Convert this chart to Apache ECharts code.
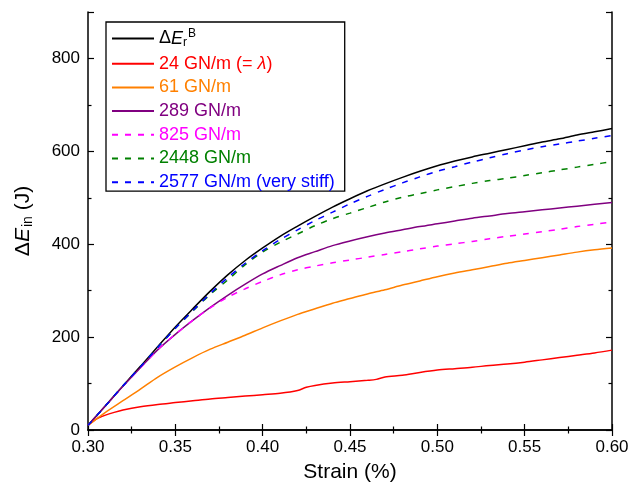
<!DOCTYPE html>
<html>
<head>
<meta charset="utf-8">
<script src="https://cdn.jsdelivr.net/npm/echarts@6/dist/echarts.min.js"></script>
<style>
  html, body { margin: 0; padding: 0; background: #fff; }
  #chart { width: 630px; height: 486px; }
</style>
</head>
<body>
<div id="chart"></div>
<script>
// Strain grid (%) shared by the smooth curves
var strain = [0.30, 0.31, 0.32, 0.33, 0.34, 0.35, 0.36, 0.37, 0.38, 0.39, 0.40,
  0.41, 0.42, 0.43, 0.44, 0.45, 0.46, 0.47, 0.48, 0.49, 0.50,
  0.51, 0.52, 0.53, 0.54, 0.55, 0.56, 0.57, 0.58, 0.59, 0.60];

// Dissipated energy (J) for each case
var energyRB = [10, 52, 95, 137, 180, 222, 261, 299, 334, 365, 392,
  417, 439, 460, 480, 498, 515, 530, 544, 557, 569,
  579, 588, 596, 604, 612, 620, 627, 635, 642, 649];
var k2577 = [10, 52, 95, 136, 178, 219, 257, 294, 328, 359, 386,
  410, 431, 451, 469, 487, 503, 518, 532, 545, 557,
  567, 577, 586, 595, 603, 610, 616, 622, 628, 634];
var k2448 = [10, 52, 95, 136, 178, 219, 256, 292, 323, 356, 383,
  404, 422, 440, 455, 467, 479, 491, 501, 509, 517,
  524, 531, 537, 542, 548, 554, 560, 566, 572, 578];
var k289 = [10, 52, 94, 134, 173, 206, 236, 264, 290, 314, 336,
  354, 371, 384, 397, 407, 416, 424, 431, 438, 444,
  450, 456, 461, 466, 470, 474, 478, 482, 486, 490];
var k825 = [10, 52, 94, 134, 173, 206, 236, 263, 286, 304, 320,
  334, 345, 353, 360, 366, 372, 378, 384, 390, 396,
  401, 406, 412, 417, 422, 427, 432, 438, 443, 448];
var k61 = [10, 38, 63, 88, 114, 136, 156, 174, 189, 204, 220,
  235, 249, 261, 273, 283, 293, 302, 312, 321, 330,
  338, 345, 352, 359, 365, 371, 377, 383, 388, 392];

// The 24 GN/m curve has a sharp knee near the start, so it is sampled more finely
var strain24 = [0.30, 0.305, 0.31, 0.315, 0.32, 0.33, 0.34, 0.35, 0.36, 0.37, 0.38,
  0.39, 0.40, 0.41, 0.42, 0.425, 0.43, 0.44, 0.45, 0.46, 0.465, 0.47,
  0.48, 0.49, 0.50, 0.51, 0.52, 0.53, 0.54, 0.55, 0.56, 0.57, 0.58, 0.59, 0.60];
var k24 = [10, 24, 32, 38, 43, 50, 55, 59, 63, 67, 70,
  73, 76, 79, 85, 92, 96, 101, 104, 107, 109, 114,
  118, 124, 129, 132, 135, 139, 142, 146, 151, 156, 161, 166, 172];

var xTicks = { min: 0.30, max: 0.60, step: 0.05 };
var yTicks = { min: 0, max: 900, step: 200 };

function pairs(xs, ys) {
  return xs.map(function (x, i) { return [x, ys[i]]; });
}

var FONT = 'Liberation Sans, Arial, sans-serif';

var seriesDefs = [
  { name: 'dEr', data: pairs(strain, energyRB), color: '#000000', dash: 'solid' },
  { name: '24', data: pairs(strain24, k24), color: '#ff0000', dash: 'solid' },
  { name: '61', data: pairs(strain, k61), color: '#ff8000', dash: 'solid' },
  { name: '289', data: pairs(strain, k289), color: '#800080', dash: 'solid' },
  { name: '825', data: pairs(strain, k825), color: '#ff00ff', dash: [6, 7] },
  { name: '2448', data: pairs(strain, k2448), color: '#008000', dash: [6, 7] },
  { name: '2577', data: pairs(strain, k2577), color: '#0000ff', dash: [6, 7] }
];

var legendText = {
  'dEr': '{t|Δ}{i|E}{sub|r}{sup|B}',
  '24': '{t|24 GN/m (= }{li|λ}{t|)}',
  '61': '61 GN/m',
  '289': '289 GN/m',
  '825': '825 GN/m',
  '2448': '2448 GN/m',
  '2577': '2577 GN/m (very stiff)'
};

var axisCommon = {
  axisLine: { lineStyle: { color: '#000', width: 1.5 } },
  splitLine: { show: false },
  axisTick: { inside: true, length: 6, lineStyle: { color: '#000', width: 1.2 } },
  minorTick: { show: true, splitNumber: 2, length: 3.5, lineStyle: { color: '#000', width: 1.2 } },
  minorSplitLine: { show: false }
};

function axis(extra) {
  var o = JSON.parse(JSON.stringify(axisCommon));
  for (var k in extra) o[k] = extra[k];
  return o;
}

var chart = echarts.init(document.getElementById('chart'), null, { renderer: 'canvas' });

chart.setOption({
  animation: false,
  backgroundColor: '#fff',
  grid: { left: 88, right: 18, top: 12, bottom: 56, show: false, outerBoundsMode: 'none', containLabel: false },
  xAxis: [
    axis({
      type: 'value', position: 'bottom',
      min: xTicks.min, max: xTicks.max, interval: xTicks.step,
      name: 'Strain (%)', nameLocation: 'middle', nameGap: 32,
      nameTextStyle: { fontFamily: FONT, fontSize: 21, color: '#000' },
      axisLabel: {
        fontFamily: FONT, fontSize: 17, color: '#000', margin: 9,
        formatter: function (v) { return v.toFixed(2); }
      }
    }),
    axis({
      type: 'value', position: 'top',
      min: xTicks.min, max: xTicks.max, interval: xTicks.step,
      axisLabel: { show: false }
    })
  ],
  yAxis: [
    axis({
      type: 'value', position: 'left',
      min: yTicks.min, max: yTicks.max, interval: yTicks.step,
      name: '{t|Δ}{i|E}{sub|in}{t| (J)}', nameLocation: 'middle', nameGap: 53,
      nameRotate: 90,
      nameTextStyle: {
        fontFamily: FONT, fontSize: 21, color: '#000',
        rich: {
          t: { fontFamily: FONT, fontSize: 21, color: '#000' },
          i: { fontFamily: FONT, fontSize: 21, fontStyle: 'italic', color: '#000' },
          sub: { fontFamily: FONT, fontSize: 14, color: '#000', verticalAlign: 'bottom', padding: [9, 0, 0, 1] }
        }
      },
      axisLabel: {
        fontFamily: FONT, fontSize: 17, color: '#000', margin: 8,
        showMaxLabel: false
      }
    }),
    axis({
      type: 'value', position: 'right',
      min: yTicks.min, max: yTicks.max, interval: yTicks.step,
      axisLabel: { show: false }
    })
  ],
  legend: {
    orient: 'vertical',
    left: 106, top: 22,
    padding: [6, 10, 0, 5],
    itemGap: 5.7,
    itemWidth: 42,
    itemHeight: 14,
    borderColor: '#000',
    borderWidth: 1.3,
    backgroundColor: '#fff',
    itemStyle: { opacity: 0 },
    data: seriesDefs.map(function (s) {
      return { name: s.name, textStyle: { color: s.color } };
    }),
    formatter: function (n) { return legendText[n]; },
    textStyle: {
      fontFamily: FONT, fontSize: 18, padding: [0, 0, 0, 0],
      rich: {
        t: { fontFamily: FONT, fontSize: 18 },
        i: { fontFamily: FONT, fontSize: 18, fontStyle: 'italic' },
        li: { fontFamily: FONT, fontSize: 18, fontStyle: 'italic', color: '#ff0000' },
        sub: { fontFamily: FONT, fontSize: 12, verticalAlign: 'bottom', padding: [7, 0, 0, 0] },
        sup: { fontFamily: FONT, fontSize: 12, verticalAlign: 'top', padding: [0, 0, 9, 1] }
      }
    }
  },
  series: seriesDefs.map(function (s) {
    return {
      name: s.name,
      type: 'line',
      xAxisIndex: 0, yAxisIndex: 0,
      data: s.data,
      showSymbol: false,
      symbol: 'none',
      smooth: 0.3,
      clip: true,
      color: s.color,
      lineStyle: { color: s.color, width: 1.5, type: s.dash }
    };
  })
});
</script>
</body>
</html>
